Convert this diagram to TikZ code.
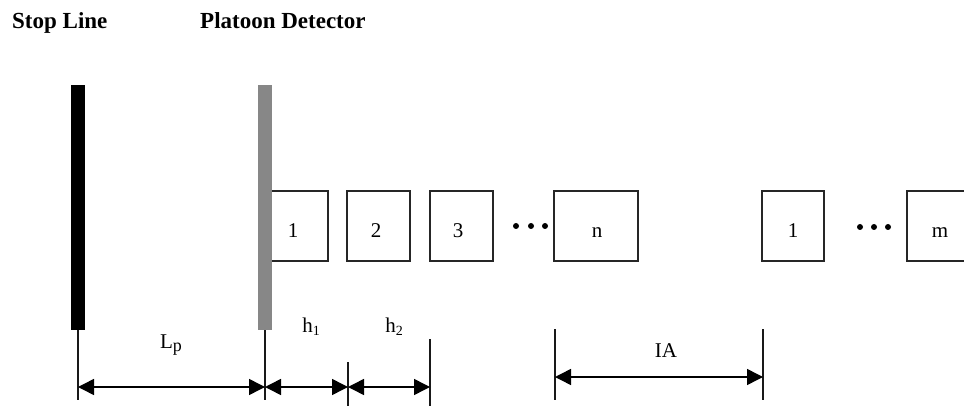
\documentclass[tikz,border=0pt]{standalone}
\usepackage{fontspec}
\setmainfont{Liberation Serif}
\usetikzlibrary{arrows.meta}
\begin{document}
\begin{tikzpicture}[x=1pt,y=-1pt,
  title/.style={font=\fontsize{23}{26}\selectfont\bfseries, inner sep=0pt, anchor=base west},
  car/.style={draw=black!85, line width=1.3pt, fill=white, minimum height=70pt, inner sep=0pt},
  carlabel/.style={font=\fontsize{21}{24}\selectfont, inner sep=0pt, anchor=base},
  dimlabel/.style={font=\fontsize{21}{24}\selectfont, inner sep=0pt, anchor=base},
  guide/.style={line width=1.2pt, draw=black!90},
  dim/.style={line width=1.5pt, draw=black, {Triangle[length=16pt,width=16pt]}-{Triangle[length=16pt,width=16pt]}},
  dot/.style={circle, fill=black, inner sep=0pt, minimum size=6pt}
]
\useasboundingbox (0,0) rectangle (964,406);

% headings
\node[title] (tstop) at (12,29) {Stop Line};
\node[title] (tdet) at (200,29) {Platoon Detector};

% extension lines under the bars and at the gap marks
\coordinate (s0) at (78,330);  \coordinate (s1) at (78,400);
\coordinate (d0) at (265,330); \coordinate (d1) at (265,400);
\coordinate (g0) at (348,362); \coordinate (g1) at (348,406);
\coordinate (k0) at (430,339); \coordinate (k1) at (430,406);
\coordinate (a0) at (555,329); \coordinate (a1) at (555,400);
\coordinate (b0) at (763,329); \coordinate (b1) at (763,400);
\draw[guide] (s0) -- (s1);
\draw[guide] (d0) -- (d1);
\draw[guide] (g0) -- (g1);
\draw[guide] (k0) -- (k1);
\draw[guide] (a0) -- (a1);
\draw[guide] (b0) -- (b1);

% vehicles of the first platoon
\node[car, minimum width=57pt] (c1) at (299.5,226) {};
\node[car, minimum width=63pt] (c2) at (378.5,226) {};
\node[car, minimum width=63pt] (c3) at (461.5,226) {};
\node[car, minimum width=84pt] (cn) at (596,226) {};
\node[carlabel] (l1) at (293,238) {1};
\node[carlabel] (l2) at (376,238) {2};
\node[carlabel] (l3) at (458,238) {3};
\node[carlabel] (ln) at (597,238) {n};
\node[dot] (p1) at (516,226) {};
\node[dot] (p2) at (531,226) {};
\node[dot] (p3) at (545,226) {};

% vehicles of the next platoon
\node[car, minimum width=62pt] (d1c) at (793,226) {};
\node[car, minimum width=66pt] (cm) at (940,226) {};
\node[carlabel] (lm1) at (793,238) {1};
\node[carlabel] (lm) at (940,238) {m};
\node[dot] (q1) at (860,227) {};
\node[dot] (q2) at (874,227) {};
\node[dot] (q3) at (888,227) {};

% stop line and platoon detector bars
\fill[black] (71,85) rectangle (85,330);
\fill[black!47] (258,85) rectangle (271.5,330);

% dimension arrows
\coordinate (ys) at (78,387);
\coordinate (yd) at (265,387);
\coordinate (yg) at (348,387);
\coordinate (yk) at (430,387);
\coordinate (ya) at (555,377);
\coordinate (yb) at (763,377);
\draw[dim] (ys) -- (yd);
\draw[dim] (yd) -- (yg);
\draw[dim] (yg) -- (yk);
\draw[dim] (ya) -- (yb);

\node[dimlabel] (lp) at (171,348) {L\raisebox{-3pt}{\fontsize{18}{20}\selectfont p}};
\node[dimlabel] (h1) at (311,332) {h\raisebox{-3pt}{\fontsize{14}{16}\selectfont 1}};
\node[dimlabel] (h2) at (394,332) {h\raisebox{-3pt}{\fontsize{14}{16}\selectfont 2}};
\node[dimlabel] (ia) at (666,357) {IA};
\end{tikzpicture}
\end{document}
